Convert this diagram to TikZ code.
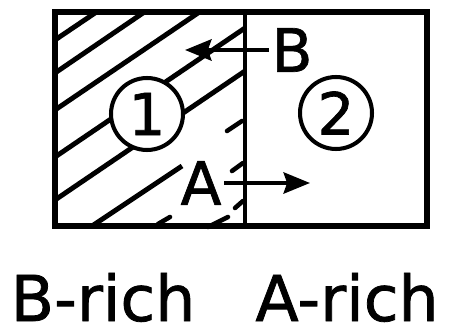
\documentclass[tikz,border=0pt]{standalone}
\usepackage{fontspec}
\setmainfont{DejaVu Sans}
\newfontfamily\heavy[FakeBold=1.2]{DejaVu Sans}
\usepackage{tikz}
\usetikzlibrary{arrows.meta}

\begin{document}
\begin{tikzpicture}[=>stealth,x=0.02cm,y=-0.02cm,
  hatch/.style={line width=2.8pt},
  nick/.style={line width=2.6pt,line cap=round},
  arr/.style={line width=2.4pt,-{Stealth[length=15pt,width=12pt,inset=2pt]}},
  phase/.style={circle,draw,line width=2.3pt,fill=white,minimum size=1.44cm,inner sep=0pt,font=\heavy\fontsize{33}{36}\selectfont},
  lbl/.style={inner sep=1.5pt,font=\heavy\fontsize{34}{36}\selectfont},
  rich/.style={anchor=base,inner sep=0pt,text depth=0pt,font=\heavy\fontsize{36}{40}\selectfont}]
\useasboundingbox(0,0)rectangle(453,334);
% hatched side
\draw[hatch](55,40)--(95,13) (55,73)--(143,13) (55,110)--(198,13)
(55,157)--(245,28) (55,200)--(245,71) (92,226)--(182,166);
\draw[nick](227,131)--(242,121) (232,171)--(243,163) (235,208)--(243,201)
(208,227)--(228,217) (158,224)--(170,217);
% box and interface
\draw[line width=3pt](55,12)rectangle(427,226);
\draw[line width=2.6pt](245,12)--(245,226);
\node[phase](c1)at(147,114){1};
\node[phase](c2)at(336,113){2};
\node[lbl](lB)at(292,50){B};
\node[lbl](lA)at(201,183){A};
\coordinate(bEnd)at(185,50);
\coordinate(aEnd)at(310,183);
\draw[arr](lB.west)--(bEnd);
\draw[arr](lA.east)--(aEnd);
\node[rich](rB)at(103,321){B-rich};
\node[rich](rA)at(347,321){A-rich};
\end{tikzpicture}
\end{document}
